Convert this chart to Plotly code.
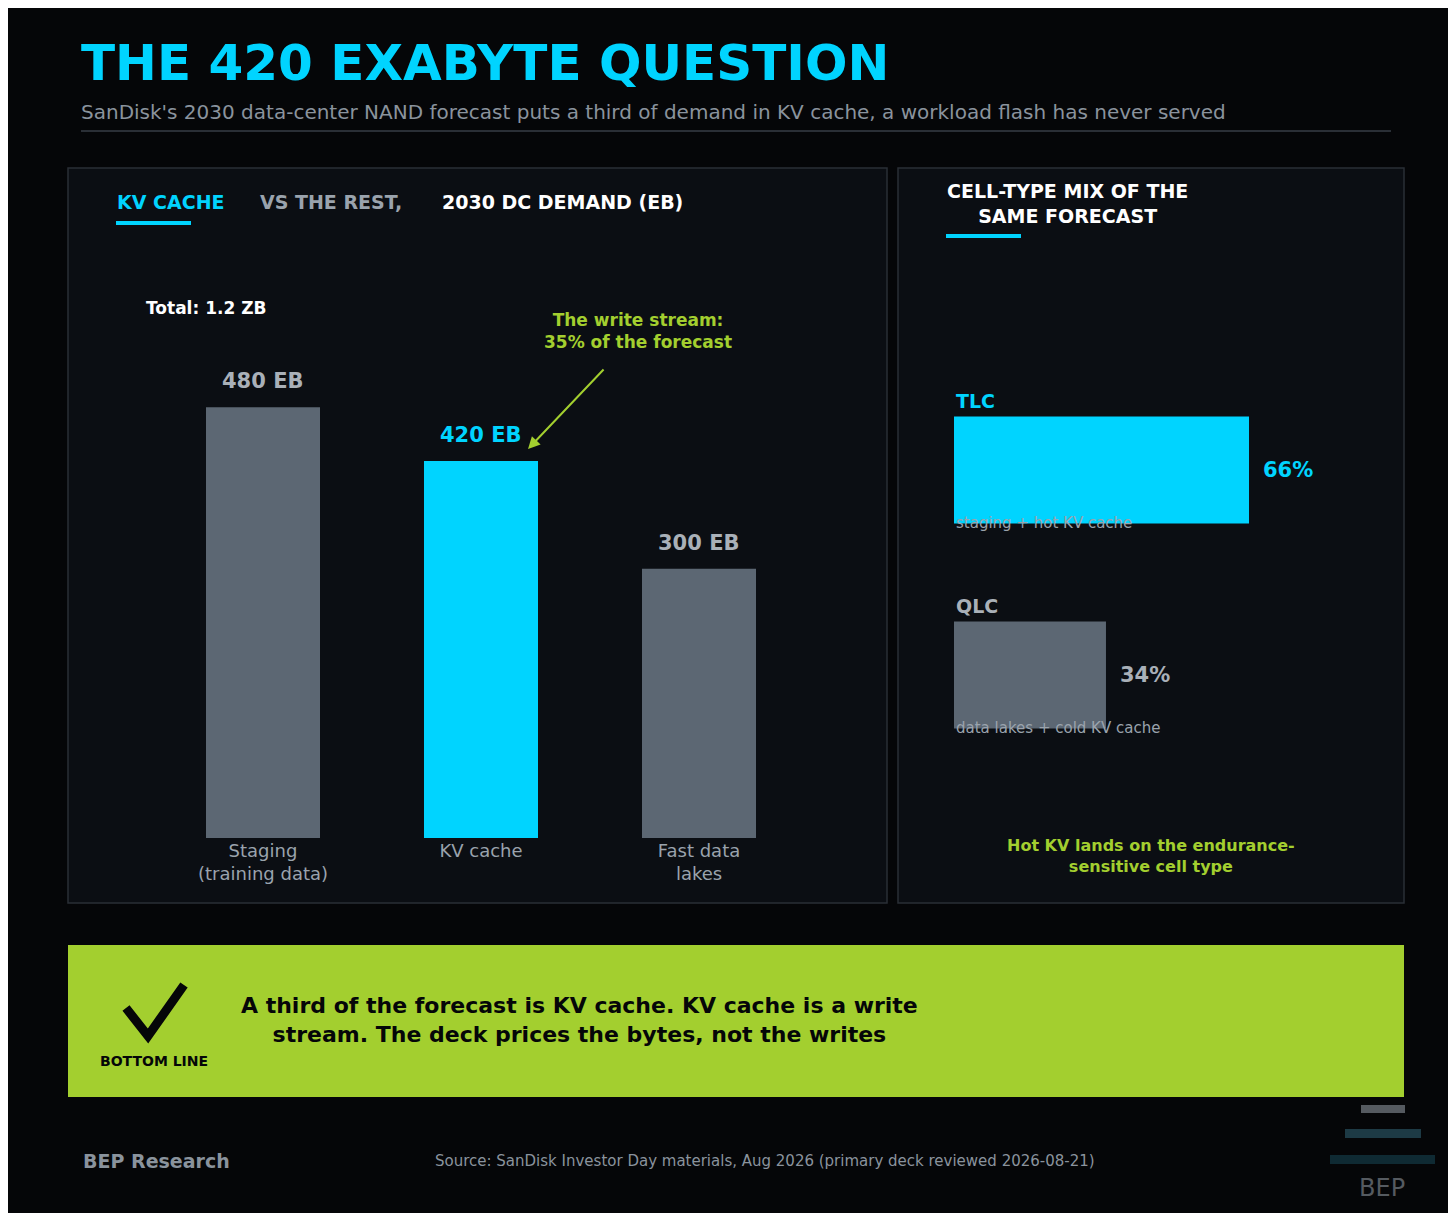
import plotly.graph_objects as go

W, H = 1456, 1213

categories = ["Staging<br>(training data)", "KV cache", "Fast data<br>lakes"]
demand_eb = [480, 420, 300]
bar_colors = ["#5c6773", "#00d4ff", "#5c6773"]

cell_types = ["TLC", "QLC"]
cell_share = [66, 34]
cell_notes = ["staging + hot KV cache", "data lakes + cold KV cache"]
cell_colors = ["#00d4ff", "#5c6773"]
cell_text_colors = ["#00d4ff", "#a9b0b8"]

CYAN = "#00d4ff"
GREEN = "#a3cf2f"
GREY = "#8a939d"
FONT = "DejaVu Sans"


def px(x):
    return x / W


def py(y):
    return 1 - y / H


fig = go.Figure()

fig.add_trace(go.Bar(
    x=categories, y=demand_eb, marker_color=bar_colors, marker_line_width=0,
    xaxis="x", yaxis="y", hoverinfo="skip",
))
fig.add_trace(go.Bar(
    y=cell_types, x=cell_share, orientation="h", marker_color=cell_colors,
    marker_line_width=0, xaxis="x2", yaxis="y2", hoverinfo="skip",
))

shapes = []
def rect(x0, y0, x1, y1, fill, line=None, lw=0):
    shapes.append(dict(type="rect", xref="paper", yref="paper",
                       x0=px(x0), x1=px(x1), y0=py(y1), y1=py(y0),
                       fillcolor=fill, line=dict(color=line or fill, width=lw), layer="below"))

rect(60, 160, 879, 895, "#0b0e13", "#2a2f36", 1.5)
rect(890, 160, 1396, 895, "#0b0e13", "#2a2f36", 1.5)
rect(73, 122, 1383, 124, "#2a2f36")
rect(108, 213, 183, 217, CYAN)
rect(938, 226, 1013, 230, CYAN)
rect(60, 937, 1396, 1089, GREEN)
# logo
rect(1353, 1097, 1397, 1105, "#555a60")
rect(1337, 1121, 1413, 1130, "#1d3a45")
rect(1322, 1147, 1427, 1156, "#0f2a33")
# checkmark
shapes.append(dict(type="path", xref="paper", yref="paper",
                   path=f"M {px(118)},{py(1000)} L {px(140)},{py(1028)} L {px(176)},{py(977)}",
                   line=dict(color="#050608", width=9)))

ann = []
def text(x, y, s, size, color, bold=True, anchor="left"):
    ann.append(dict(xref="paper", yref="paper", x=px(x), y=py(y), text=f"<b>{s}</b>" if bold else s,
                    showarrow=False, xanchor=anchor, yanchor="middle",
                    font=dict(family=FONT, size=size, color=color)))

text(71, 55, "THE 420 EXABYTE QUESTION", 50, CYAN)
text(71, 104, "SanDisk's 2030 data-center NAND forecast puts a third of demand in KV cache, a workload flash has never served", 20, GREY, bold=False)
text(107, 194, "KV CACHE", 19, CYAN)
text(250, 194, "VS THE REST,", 19, "#9aa3ad")
text(432, 194, "2030 DC DEMAND (EB)", 19, "#ffffff")
text(937, 196, "CELL-TYPE MIX OF THE<br>SAME FORECAST", 19, "#ffffff")
text(136, 300, "Total: 1.2 ZB", 17, "#ffffff")
text(630, 323, "The write stream:<br>35% of the forecast", 17, GREEN, anchor="center")
text(1143, 848, "Hot KV lands on the endurance-<br>sensitive cell type", 16, GREEN, anchor="center")
text(231, 1012, "A third of the forecast is KV cache. KV cache is a write<br>stream. The deck prices the bytes, not the writes", 22, "#050608")
text(146, 1053, "BOTTOM LINE", 14, "#050608", anchor="center")
text(73, 1153, "BEP Research", 19, GREY)
text(757, 1153, "Source: SanDisk Investor Day materials, Aug 2026 (primary deck reviewed 2026-08-21)", 15, GREY, bold=False, anchor="center")
text(1374, 1180, "BEP", 24, "#555a60", bold=False, anchor="center")

# arrow
ann.append(dict(xref="paper", yref="paper", x=px(520), y=py(441), ax=77, ay=-81,
                axref="pixel", ayref="pixel", showarrow=True, arrowhead=2, arrowsize=1.2,
                arrowwidth=2, arrowcolor=GREEN, text=""))

# bar value labels
for c, v, col in zip(categories, demand_eb, ["#a9b0b8", CYAN, "#a9b0b8"]):
    ann.append(dict(xref="x", yref="y", x=c, y=v, yshift=26, text=f"<b>{v} EB</b>",
                    showarrow=False, font=dict(family=FONT, size=21, color=col)))

for t, v, note, col in zip(cell_types, cell_share, cell_notes, cell_text_colors):
    ann.append(dict(xref="x2", yref="y2", x=v, y=t, xshift=12, xanchor="left", text=f"<b>{v}%</b>",
                    showarrow=False, font=dict(family=FONT, size=21, color=col)))
    ann.append(dict(xref="x2", yref="y2", x=0, y=t, yshift=69, xanchor="left", text=f"<b>{t}</b>",
                    showarrow=False, font=dict(family=FONT, size=19, color=col)))
    ann.append(dict(xref="x2", yref="y2", x=0, y=t, yshift=-53, xanchor="left", text=note,
                    showarrow=False, font=dict(family=FONT, size=15, color="#9aa3ad")))

fig.update_layout(
    width=W, height=H, margin=dict(l=0, r=0, t=0, b=0),
    paper_bgcolor="#050608", plot_bgcolor="rgba(0,0,0,0)",
    showlegend=False, bargap=0.477, shapes=shapes, annotations=ann,
    font=dict(family=FONT),
    xaxis=dict(domain=[px(146), px(800)], anchor="y", showgrid=False, zeroline=False,
               showline=False, ticks="", tickfont=dict(size=18, color="#9aa3ad")),
    yaxis=dict(domain=[py(830), py(260)], range=[0, 635], visible=False),
    xaxis2=dict(domain=[px(946), px(1393)], range=[0, 100], anchor="y2", visible=False),
    yaxis2=dict(domain=[py(769.5), py(359.5)], anchor="x2", visible=False,
                categoryorder="array", categoryarray=cell_types[::-1]),
)

fig.write_html("out.html")
